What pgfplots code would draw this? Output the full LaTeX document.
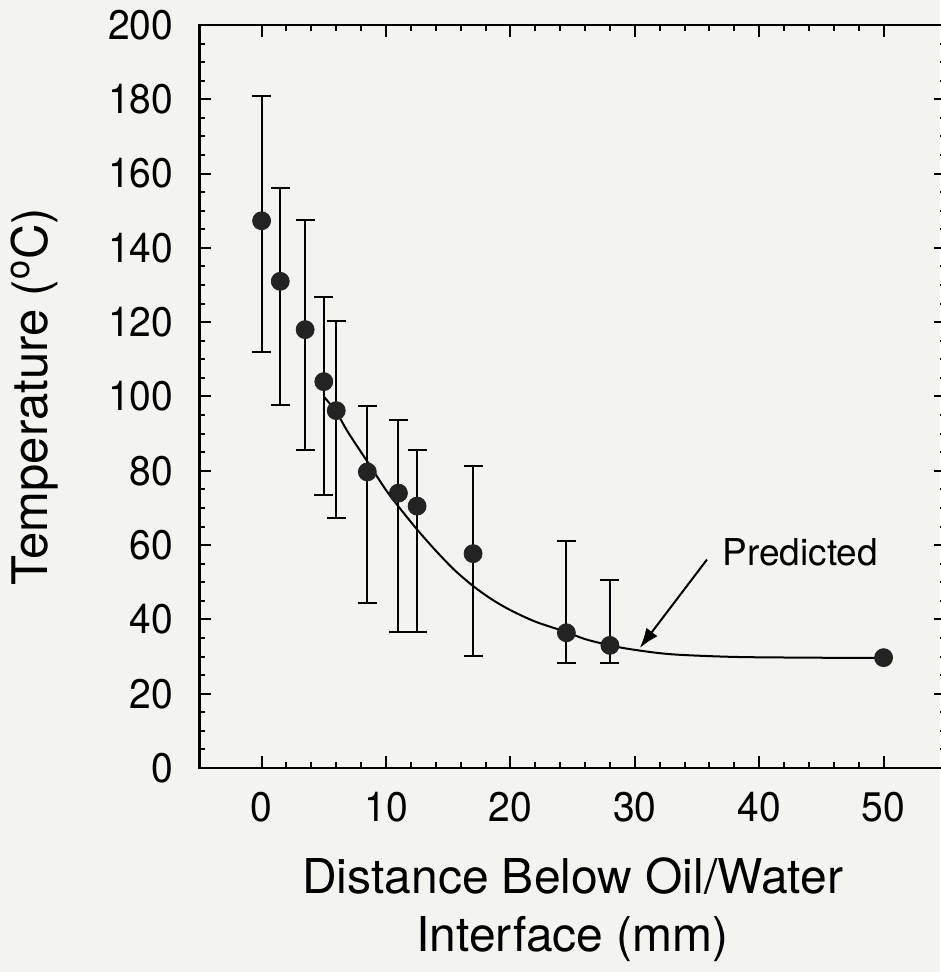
\documentclass[border=0pt]{standalone}
\usepackage{fontspec}
\setmainfont{TeX Gyre Heros}
\usepackage{pgfplots}
\pgfplotsset{compat=1.18}
\usetikzlibrary{arrows.meta}
\definecolor{bg}{RGB}{243,243,240}
\definecolor{mk}{RGB}{35,35,35}
\begin{document}
\begin{tikzpicture}
\path[use as bounding box, fill=bg] (-99.7pt,-102pt) rectangle (370.3pt,384pt);
\begin{axis}[
  scale only axis, width=373.2pt, height=371.5pt,
  xmin=-5, xmax=55, ymin=0, ymax=200,
  xtick={0,10,...,50}, ytick={0,20,...,200},
  minor x tick num=4, minor y tick num=3,
  tick align=inside, tick pos=both,
  major tick length=6pt, minor tick length=3pt,
  axis line style={line width=1.2pt, black},
  every tick/.style={line width=1pt, black},
  /pgf/number format/assume math mode=true,
  ticklabel style={font=\fontsize{19.5}{23}\selectfont, yscale=1.06},
  xticklabel style={yshift=-8pt}, yticklabel style={xshift=-9.5pt},
  xlabel={Distance Below Oil/Water\\Interface (mm)},
  xlabel style={at={(axis description cs:0.5,-0.19)}, anchor=center, align=center, font=\fontsize{24}{29}\selectfont},
  ylabel={Temperature (\textsuperscript{o}C)},
  ylabel style={at={(axis description cs:-0.221,0.5)}, anchor=center, font=\fontsize{24.5}{29}\selectfont},
]
\addplot[line width=1pt, black, smooth] coordinates {
 (5,100) (6,95.8) (7,90.1) (8.5,82.5) (10,74.8) (11,70.4) (12.5,64.2) (14,58.5) (15.5,53.3) (17,49) (18.5,45.4) (20,42.5) (22,39.4) (24.5,36.6) (26,34.7) (28,33) (30,31.8) (33,30.6) (38,29.9) (44,29.7) (50,29.6)
};
\addplot[only marks, mark=*, mark size=4.5pt, mark options={fill=mk, draw=mk},
  error bars/.cd, y dir=both, y explicit,
  error bar style={line width=1pt, black},
  error mark options={rotate=90, mark size=4.75pt, line width=1pt, black}]
  table[x=x, y=y, y error plus=ep, y error minus=em] {
x     y      ep    em
0     147.3  33.6  35.2
1.5   131.0  25.0  33.4
3.5   118.0  29.5  32.4
5     104.0  22.7  30.6
6     96.2   24.0  28.9
8.5   79.7   17.8  35.3
11    74.0   19.6  37.5
12.5  70.5   15.0  34.0
17    57.7   23.5  27.5
24.5  36.4   24.6  8.1
28    33.0   17.7  4.7
};
\addplot[only marks, mark=*, mark size=4.5pt, mark options={fill=mk, draw=mk}]
  coordinates {(50,29.7)};
\draw[line width=1pt, -{Latex[length=10pt, width=7pt]}] (axis cs:35.8,56.1) -- (axis cs:30.4,32.3);
\node[font=\fontsize{18.5}{22}\selectfont] at (axis cs:43.3,58) {Predicted};
\end{axis}
\end{tikzpicture}
\end{document}
